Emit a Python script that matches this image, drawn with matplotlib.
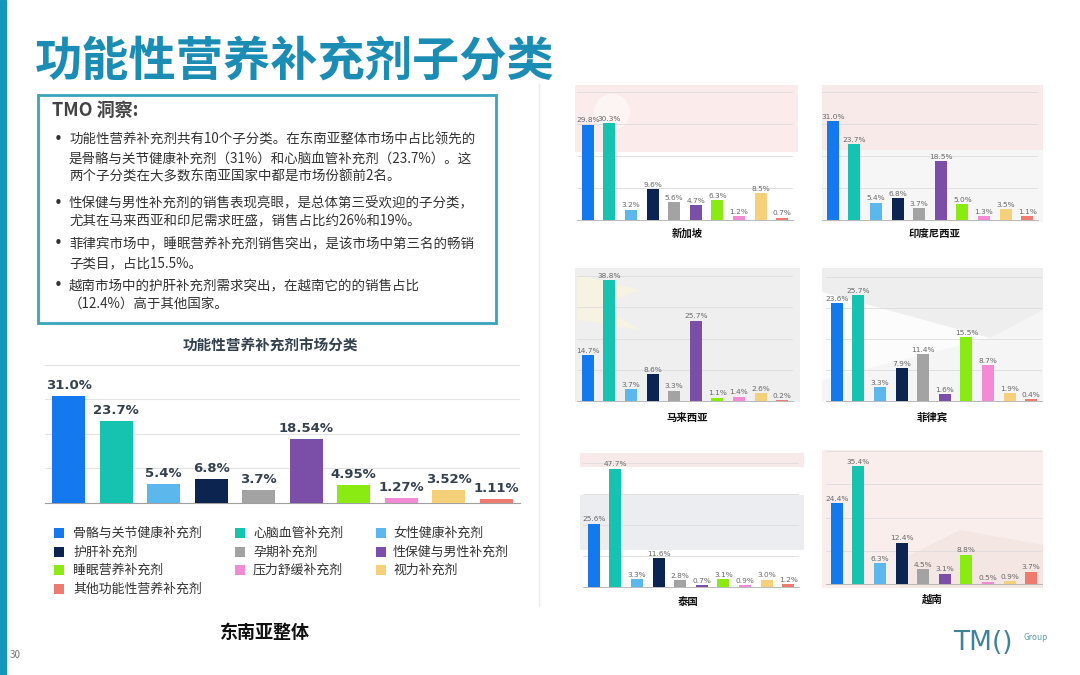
import matplotlib
matplotlib.use("Agg")
import matplotlib.pyplot as plt
from matplotlib.patches import Rectangle, Polygon, Circle

plt.rcParams['font.family'] = ['Noto Sans CJK SC', 'DejaVu Sans']

# Дані
categories = ["骨骼与关节健康补充剂", "心脑血管补充剂", "女性健康补充剂",
              "护肝补充剂", "孕期补充剂", "性保健与男性补充剂",
              "睡眠营养补充剂", "压力舒缓补充剂", "视力补充剂", "其他功能性营养补充剂"]
sea_values = [31.0, 23.7, 5.4, 6.8, 3.7, 18.54, 4.95, 1.27, 3.52, 1.11]
sea_labels = ["31.0%", "23.7%", "5.4%", "6.8%", "3.7%", "18.54%", "4.95%", "1.27%", "3.52%", "1.11%"]

countries = ["新加坡", "印度尼西亚", "马来西亚", "菲律宾", "泰国", "越南"]
singapore = [29.8, 30.3, 3.2, 9.6, 5.6, 4.7, 6.3, 1.2, 8.5, 0.7]
indonesia = [31.0, 23.7, 5.4, 6.8, 3.7, 18.5, 5.0, 1.3, 3.5, 1.1]
malaysia = [14.7, 38.8, 3.7, 8.6, 3.3, 25.7, 1.1, 1.4, 2.6, 0.2]
philippines = [23.6, 25.7, 3.3, 7.9, 11.4, 1.6, 15.5, 8.7, 1.9, 0.4]
thailand = [25.6, 47.7, 3.3, 11.6, 2.8, 0.7, 3.1, 0.9, 3.0, 1.2]
vietnam = [24.4, 35.4, 6.3, 12.4, 4.5, 3.1, 8.8, 0.5, 0.9, 3.7]

colors = ["#1479ee", "#16c3b1", "#5cb8ec", "#0c2450", "#a3a3a3",
          "#7b4ea8", "#8aeb12", "#f28ad6", "#f5d07a", "#ef7b70"]

W, H = 1080, 675
fig = plt.figure(figsize=(W / 100, H / 100), dpi=100)


def px_axes(x0, y0, x1, y1):
    return fig.add_axes([x0 / W, 1 - y1 / H, (x1 - x0) / W, (y1 - y0) / H])


# Фон і декор слайда
bg = fig.add_axes([0, 0, 1, 1])
bg.set_xlim(0, W)
bg.set_ylim(H, 0)
bg.axis("off")
bg.add_patch(Rectangle((0, 0), 6, H, color="#1597b9"))
bg.plot([539, 539], [84, 606], color="#ececec", lw=1)

# Розмиті прапори за малими графіками
bg.add_patch(Rectangle((575, 85), 223, 67, color="#fcebeb", lw=0))
bg.add_patch(Circle((612, 112), 18, color="#fdf4f4", lw=0))
bg.add_patch(Rectangle((822, 85), 221, 65, color="#f9eaea", lw=0))
bg.add_patch(Rectangle((822, 150), 221, 72, color="#f7f6f6", lw=0))
bg.add_patch(Rectangle((575, 268), 225, 134, color="#efeff0", lw=0))
bg.add_patch(Polygon([(578, 275), (640, 290), (600, 305), (640, 330), (578, 320)],
                     closed=True, color="#f6f3e2", lw=0))
bg.add_patch(Rectangle((822, 268), 221, 134, color="#f5f5f5", lw=0))
bg.add_patch(Polygon([(822, 268), (1043, 268), (1043, 310), (990, 338), (822, 300)],
                     closed=True, color="#eeeeee", lw=0))
bg.add_patch(Polygon([(822, 292), (990, 338), (822, 380)], closed=True, color="#fcfcfc", lw=0))
bg.add_patch(Rectangle((580, 453), 224, 14, color="#f9eaea", lw=0))
bg.add_patch(Rectangle((580, 495), 224, 55, color="#ebedf1", lw=0))
bg.add_patch(Rectangle((822, 450), 221, 138, color="#f9eeeb", lw=0))
bg.add_patch(Polygon([(900, 560), (960, 530), (1043, 545), (1043, 588), (900, 588)],
                     closed=True, color="#f4e6e3", lw=0))

# Заголовок
fig.text(35 / W, 1 - 62 / H, "功能性营养补充剂子分类", fontsize=34, fontweight="bold",
         color="#1b8db5", va="center", ha="left")

# Блок з висновками
bg.add_patch(Rectangle((38, 95), 458, 228, fill=False, edgecolor="#3ba4ba", lw=2))
fig.text(52 / W, 1 - 110 / H, "TMO 洞察:", fontsize=13, fontweight="bold",
         color="#444444", va="center")
insight_lines = [
    (140, True, "功能性营养补充剂共有10个子分类。在东南亚整体市场中占比领先的"),
    (159, False, "是骨骼与关节健康补充剂（31%）和心脑血管补充剂（23.7%）。这"),
    (177, False, "两个子分类在大多数东南亚国家中都是市场份额前2名。"),
    (203, True, "性保健与男性补充剂的销售表现亮眼，是总体第三受欢迎的子分类，"),
    (221, False, "尤其在马来西亚和印尼需求旺盛，销售占比约26%和19%。"),
    (244, True, "菲律宾市场中，睡眠营养补充剂销售突出，是该市场中第三名的畅销"),
    (263, False, "子类目，占比15.5%。"),
    (286, True, "越南市场中的护肝补充剂需求突出，在越南它的的销售占比"),
    (304, False, "（12.4%）高于其他国家。"),
]
for y, bullet, line in insight_lines:
    if bullet:
        fig.text(54 / W, 1 - y / H, "•", fontsize=11, color="#333333", va="center",
                 family="DejaVu Sans")
    fig.text(69 / W, 1 - y / H, line, fontsize=9.7, color="#333333", va="center")

# Загальний графік по Південно-Східній Азії
ax = px_axes(45, 365, 520, 502.5)
x = range(len(sea_values))
ax.bar(x, sea_values, width=0.7, color=colors, zorder=3)
for i, (v, lab) in enumerate(zip(sea_values, sea_labels)):
    ax.text(i, v + 1.2, lab, ha="center", va="bottom", fontsize=9.5,
            fontweight="bold", color="#34414f", family="DejaVu Sans")
ax.set_xlim(-0.5, 9.5)
ax.set_ylim(0, 40)
ax.set_yticks([0, 10, 20, 30, 40])
ax.grid(axis="y", color="#e3e3e3", lw=0.8, zorder=0)
ax.set_xticks([])
ax.tick_params(left=False, labelleft=False)
for s in ["top", "right", "left"]:
    ax.spines[s].set_visible(False)
ax.spines["bottom"].set_color("#a0a0a0")
ax.patch.set_alpha(0)
fig.text(270 / W, 1 - 346 / H, "功能性营养补充剂市场分类", fontsize=10.5,
         fontweight="bold", color="#34414f", ha="center", va="center")

# Легенда (по рядках, три колонки)
leg_x = [(54, 73), (235, 253), (376, 393)]
leg_y = [533, 552, 570, 589]
for i, name in enumerate(categories):
    r, c = divmod(i, 3)
    sx, tx = leg_x[c]
    y = leg_y[r]
    bg.add_patch(Rectangle((sx, y - 5), 10, 10, color=colors[i], lw=0))
    bg.text(tx, y, name, fontsize=9.3, color="#333333", va="center", ha="left")

fig.text(265 / W, 1 - 632 / H, "东南亚整体", fontsize=13, fontweight="bold",
         color="#111111", ha="center", va="center")
fig.text(10 / W, 1 - 655 / H, "30", fontsize=7, color="#777777", va="center")

# Логотип
fig.text(953 / W, 1 - 643 / H, "TM()", fontsize=19, color="#3f8299",
         va="center", family="DejaVu Sans")
fig.text(1024 / W, 1 - 637 / H, "Group", fontsize=6, color="#5f9db0", va="center")

# Малі графіки по країнах
panels = [
    (singapore, (577, 92, 793, 220), 40, (687, 234)),
    (indonesia, (822, 92, 1038, 220), 40, (935, 234)),
    (malaysia, (577, 276, 793, 401), 40, (687, 418)),
    (philippines, (826, 277, 1042, 401), 30, (932, 418)),
    (thailand, (583, 463, 799, 587), 50, (688, 602)),
    (vietnam, (826, 451, 1042, 584), 40, (932, 600)),
]
for name, (vals, box, ymax, lab_pos) in zip(countries, panels):
    a = px_axes(*box)
    a.bar(range(len(vals)), vals, width=0.55, color=colors, zorder=3)
    for i, v in enumerate(vals):
        a.text(i, v + ymax * 0.01, f"{v:.1f}%", ha="center", va="bottom",
               fontsize=5.3, color="#6a6a6a", family="DejaVu Sans")
    a.set_xlim(-0.5, 9.5)
    a.set_ylim(0, ymax)
    a.set_yticks([ymax * k / 4 for k in range(5)])
    a.grid(axis="y", color="#dcdcdc", lw=0.6, zorder=0)
    a.set_xticks([])
    a.tick_params(left=False, labelleft=False)
    for s in ["top", "right", "left"]:
        a.spines[s].set_visible(False)
    a.spines["bottom"].set_color("#b0b0b0")
    a.spines["bottom"].set_linewidth(0.6)
    a.patch.set_alpha(0)
    fig.text(lab_pos[0] / W, 1 - lab_pos[1] / H, name, fontsize=7.5,
             fontweight="bold", color="#111111", ha="center", va="center")

fig.savefig("out.png", dpi=100)
